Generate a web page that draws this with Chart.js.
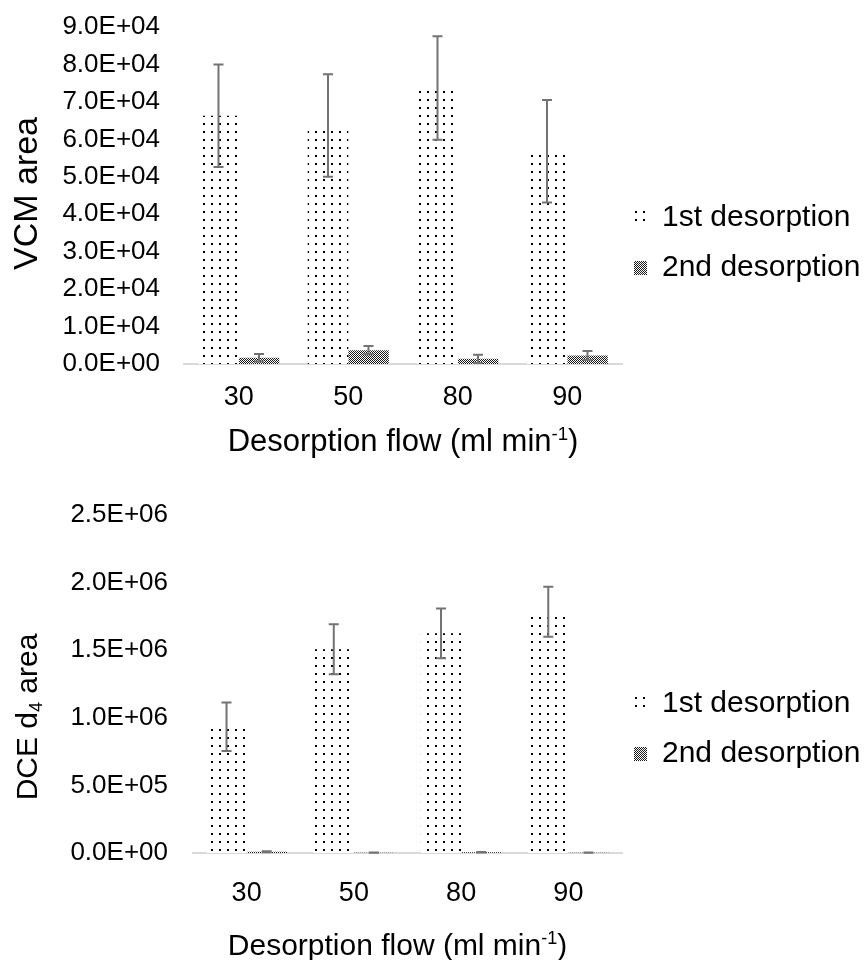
<!DOCTYPE html>
<html>
<head>
<meta charset="utf-8">
<script src="https://cdn.jsdelivr.net/npm/chart.js@4/dist/chart.umd.min.js"></script>
<style>
  body { margin: 0; background: #fff; }
  .box { position: relative; width: 867px; }
</style>
</head>
<body>
<div class="box" style="height:470px"><canvas id="c1"></canvas></div>
<div class="box" style="height:490px"><canvas id="c2"></canvas></div>
<script>
const flows = ['30', '50', '80', '90'];
const seriesNames = ['1st desorption', '2nd desorption'];

// VCM area
const vcmFirst = [66300, 63700, 73700, 56800];
const vcmFirstErr = [13700, 13700, 13800, 13700];
const vcmSecond = [1700, 3700, 1400, 2300];
const vcmSecondErr = [1000, 1100, 1100, 1200];
const vcmTicks = [0, 90000, 10000];   // min, max, step

// DCE d4 area
const dceFirst = [934000, 1507000, 1625000, 1785000];
const dceFirstErr = [180000, 185000, 184000, 185000];
const dceSecond = [9000, 2000, 5000, 2000];
const dceSecondErr = [4000, 1000, 2000, 1000];
const dceTicks = [0, 2500000, 500000];

const FONT = '"Liberation Sans", Arial, Helvetica, sans-serif';

function dots(ctx) {
    const t = document.createElement('canvas');
    t.width = 8; t.height = 8;
    const g = t.getContext('2d');
    g.fillStyle = '#fff'; g.fillRect(0, 0, 8, 8);
    g.fillStyle = '#000'; g.fillRect(3, 3, 2, 2);
    return ctx.createPattern(t, 'repeat');
}

function checker(ctx) {
    const t = document.createElement('canvas');
    t.width = 2; t.height = 2;
    const g = t.getContext('2d');
    g.fillStyle = '#fff'; g.fillRect(0, 0, 2, 2);
    g.fillStyle = '#1a1a1a'; g.fillRect(0, 0, 1, 1); g.fillRect(1, 1, 1, 1);
    return ctx.createPattern(t, 'repeat');
}

function sci(v) {
    if (v === 0) return '0.0E+00';
    const e = Math.floor(Math.log10(v) + 1e-9);
    return (v / Math.pow(10, e)).toFixed(1) + 'E+' + String(e).padStart(2, '0');
}

const errorBars = {
    id: 'errorBars',
    afterDatasetsDraw(chart) {
        const { ctx, scales: { y } } = chart;
        ctx.save();
        ctx.strokeStyle = '#737373';
        ctx.lineWidth = 2;
        chart.data.datasets.forEach((ds, i) => {
            chart.getDatasetMeta(i).data.forEach((bar, j) => {
                const v = ds.data[j], e = ds.errors[j];
                const top = y.getPixelForValue(v + e);
                const bot = y.getPixelForValue(Math.max(v - e, 0));
                ctx.beginPath();
                ctx.moveTo(bar.x, top); ctx.lineTo(bar.x, bot);
                ctx.moveTo(bar.x - 5, top); ctx.lineTo(bar.x + 5, top);
                ctx.moveTo(bar.x - 5, bot); ctx.lineTo(bar.x + 5, bot);
                ctx.stroke();
            });
        });
        ctx.restore();
    }
};

// text with super/subscript parts
function richWidth(ctx, parts, size) {
    let w = 0;
    parts.forEach(p => {
        ctx.font = (p.s ? size * 0.6 : size) + 'px ' + FONT;
        w += ctx.measureText(p.t).width;
    });
    return w;
}
function drawRich(ctx, parts, size, x, y) {
    ctx.textAlign = 'left';
    ctx.textBaseline = 'alphabetic';
    parts.forEach(p => {
        const sz = p.s ? size * 0.6 : size;
        const dy = p.s === 'sup' ? -size * 0.36 : p.s === 'sub' ? size * 0.17 : 0;
        ctx.font = sz + 'px ' + FONT;
        ctx.fillText(p.t, x, y + dy);
        x += ctx.measureText(p.t).width;
    });
}

const axisTitles = {
    id: 'axisTitles',
    afterLayout(chart, args, o) {
        // legend sits a bit closer to the plot than chart.js puts it
        chart.legend.left += o.legendShift;
        chart.legend.right += o.legendShift;
    },
    afterDraw(chart, args, o) {
        const { ctx, chartArea: a } = chart;
        ctx.save();
        ctx.fillStyle = '#000';
        let w = richWidth(ctx, o.x.parts, o.x.size);
        drawRich(ctx, o.x.parts, o.x.size, (a.left + a.right) / 2 + o.x.shift - w / 2, a.bottom + o.x.offset);
        ctx.translate(o.y.x, (a.top + a.bottom) / 2 + o.y.shift);
        ctx.rotate(-Math.PI / 2);
        w = richWidth(ctx, o.y.parts, o.y.size);
        drawRich(ctx, o.y.parts, o.y.size, -w / 2, 0);
        ctx.restore();
    }
};

function makeChart(id, first, firstErr, second, secondErr, ticks, cfg) {
    const ctx = document.getElementById(id).getContext('2d');
    return new Chart(ctx, {
        type: 'bar',
        data: {
            labels: flows,
            datasets: [
                { label: seriesNames[0], data: first, errors: firstErr, backgroundColor: dots(ctx), borderWidth: 0 },
                { label: seriesNames[1], data: second, errors: secondErr, backgroundColor: checker(ctx), borderWidth: 0 }
            ]
        },
        options: {
            responsive: true,
            maintainAspectRatio: false,
            animation: false,
            categoryPercentage: cfg.cat,
            barPercentage: 1,
            layout: { padding: { top: cfg.top, bottom: cfg.bottom, right: 0, left: 0 } },
            scales: {
                x: {
                    grid: { display: false, drawTicks: false },
                    border: { color: '#d9d9d9', width: 2 },
                    ticks: { color: '#000', padding: cfg.xPad, font: { family: FONT, size: 27 } },
                    afterFit: s => { s.height = cfg.xHeight; }
                },
                y: {
                    min: ticks[0], max: ticks[1],
                    grid: { display: false, drawTicks: false },
                    border: { display: false },
                    ticks: { stepSize: ticks[2], color: '#000', padding: cfg.yPad, font: { family: FONT, size: 26 }, callback: v => sci(v) },
                    afterFit: s => { s.width = cfg.yWidth; s.paddingTop = 10; s.paddingBottom = 10; }
                }
            },
            plugins: {
                tooltip: { enabled: false },
                legend: {
                    position: 'right',
                    maxWidth: 245,
                    labels: { color: '#000', boxWidth: 13, boxHeight: 14, padding: 20, font: { family: FONT, size: 30 } }
                },
                axisTitles: cfg.titles
            }
        },
        plugins: [errorBars, axisTitles]
    });
}

makeChart('c1', vcmFirst, vcmFirstErr, vcmSecond, vcmSecondErr, vcmTicks, {
    cat: 0.74, top: 27, bottom: 11, xHeight: 95, xPad: 17, yPad: 24, yWidth: 184,
    titles: {
        legendShift: -8,
        x: { parts: [{ t: 'Desorption flow (ml min' }, { t: '-1', s: 'sup' }, { t: ')' }], size: 31, offset: 87, shift: 0 },
        y: { parts: [{ t: 'VCM area' }], size: 34, x: 37, shift: -2 }
    }
});

makeChart('c2', dceFirst, dceFirstErr, dceSecond, dceSecondErr, dceTicks, {
    cat: 0.75, top: 45, bottom: 17, xHeight: 90, xPad: 24, yPad: 25, yWidth: 193,
    titles: {
        legendShift: -8,
        x: { parts: [{ t: 'Desorption flow (ml min' }, { t: '-1', s: 'sup' }, { t: ')' }], size: 30, offset: 102, shift: -10 },
        y: { parts: [{ t: 'DCE d' }, { t: '4', s: 'sub' }, { t: ' area' }], size: 30, x: 37, shift: 33 }
    }
});
</script>
</body>
</html>
